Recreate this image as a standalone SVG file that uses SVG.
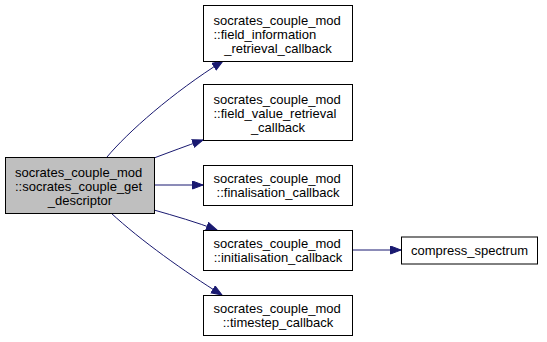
<svg xmlns="http://www.w3.org/2000/svg" width="547" height="342" viewBox="0 0 547 342">
  <style>
    .node rect { fill: #ffffff; stroke: #000000; stroke-width: 1; }
    .node.main rect { fill: #bfbfbf; }
    text { font-family: "Liberation Sans", Arial, Helvetica, sans-serif; font-size: 13px; fill: #000000; }
    .c { text-anchor: middle; }
    .edge { fill: none; stroke: #191970; stroke-width: 1; marker-end: url(#arrow); }
  </style>
  <defs>
    <marker id="arrow" markerUnits="userSpaceOnUse" markerWidth="13" markerHeight="10" refX="11" refY="4.5" orient="auto">
      <polygon points="0.5,0.5 11,4.5 0.5,8.5" fill="#191970" stroke="#191970"/>
    </marker>
  </defs>

  <rect width="547" height="342" fill="#ffffff"/>

  <g id="edges">
    <path class="edge" d="M107,157 C128,132 172,93 223,61"/>
    <path class="edge" d="M154,158 C170,152 186,146 203,140"/>
    <path class="edge" d="M154,185 L203,185"/>
    <path class="edge" d="M154,210 C175,216 196,222 217,230"/>
    <path class="edge" d="M111,213 C140,240 185,272 222,295"/>
    <path class="edge" d="M353,250 L401,250"/>
  </g>

  <g id="node-get-descriptor" class="node main">
    <rect x="5.5" y="157.5" width="149" height="56"/>
    <text x="15" y="177">socrates_couple_mod</text>
    <text x="15" y="191">::socrates_couple_get</text>
    <text class="c" x="80" y="205">_descriptor</text>
  </g>

  <g id="node-field-information" class="node">
    <rect x="203.5" y="5.5" width="149" height="56"/>
    <text x="213.5" y="25">socrates_couple_mod</text>
    <text x="213.5" y="39">::field_information</text>
    <text class="c" x="278" y="53">_retrieval_callback</text>
  </g>

  <g id="node-field-value" class="node">
    <rect x="203.5" y="84.5" width="149" height="56"/>
    <text x="213.5" y="104">socrates_couple_mod</text>
    <text x="213.5" y="118">::field_value_retrieval</text>
    <text class="c" x="278" y="132">_callback</text>
  </g>

  <g id="node-finalisation" class="node">
    <rect x="203.5" y="165.5" width="149" height="40"/>
    <text x="213.5" y="183">socrates_couple_mod</text>
    <text class="c" x="278" y="197">::finalisation_callback</text>
  </g>

  <g id="node-initialisation" class="node">
    <rect x="203.5" y="230.5" width="149" height="40"/>
    <text x="213.5" y="248">socrates_couple_mod</text>
    <text class="c" x="278" y="262">::initialisation_callback</text>
  </g>

  <g id="node-timestep" class="node">
    <rect x="203.5" y="295.5" width="149" height="40"/>
    <text x="213.5" y="313">socrates_couple_mod</text>
    <text class="c" x="278" y="327">::timestep_callback</text>
  </g>

  <g id="node-compress-spectrum" class="node">
    <rect x="401.5" y="237" width="136" height="27"/>
    <text class="c" x="469.5" y="255">compress_spectrum</text>
  </g>
</svg>
